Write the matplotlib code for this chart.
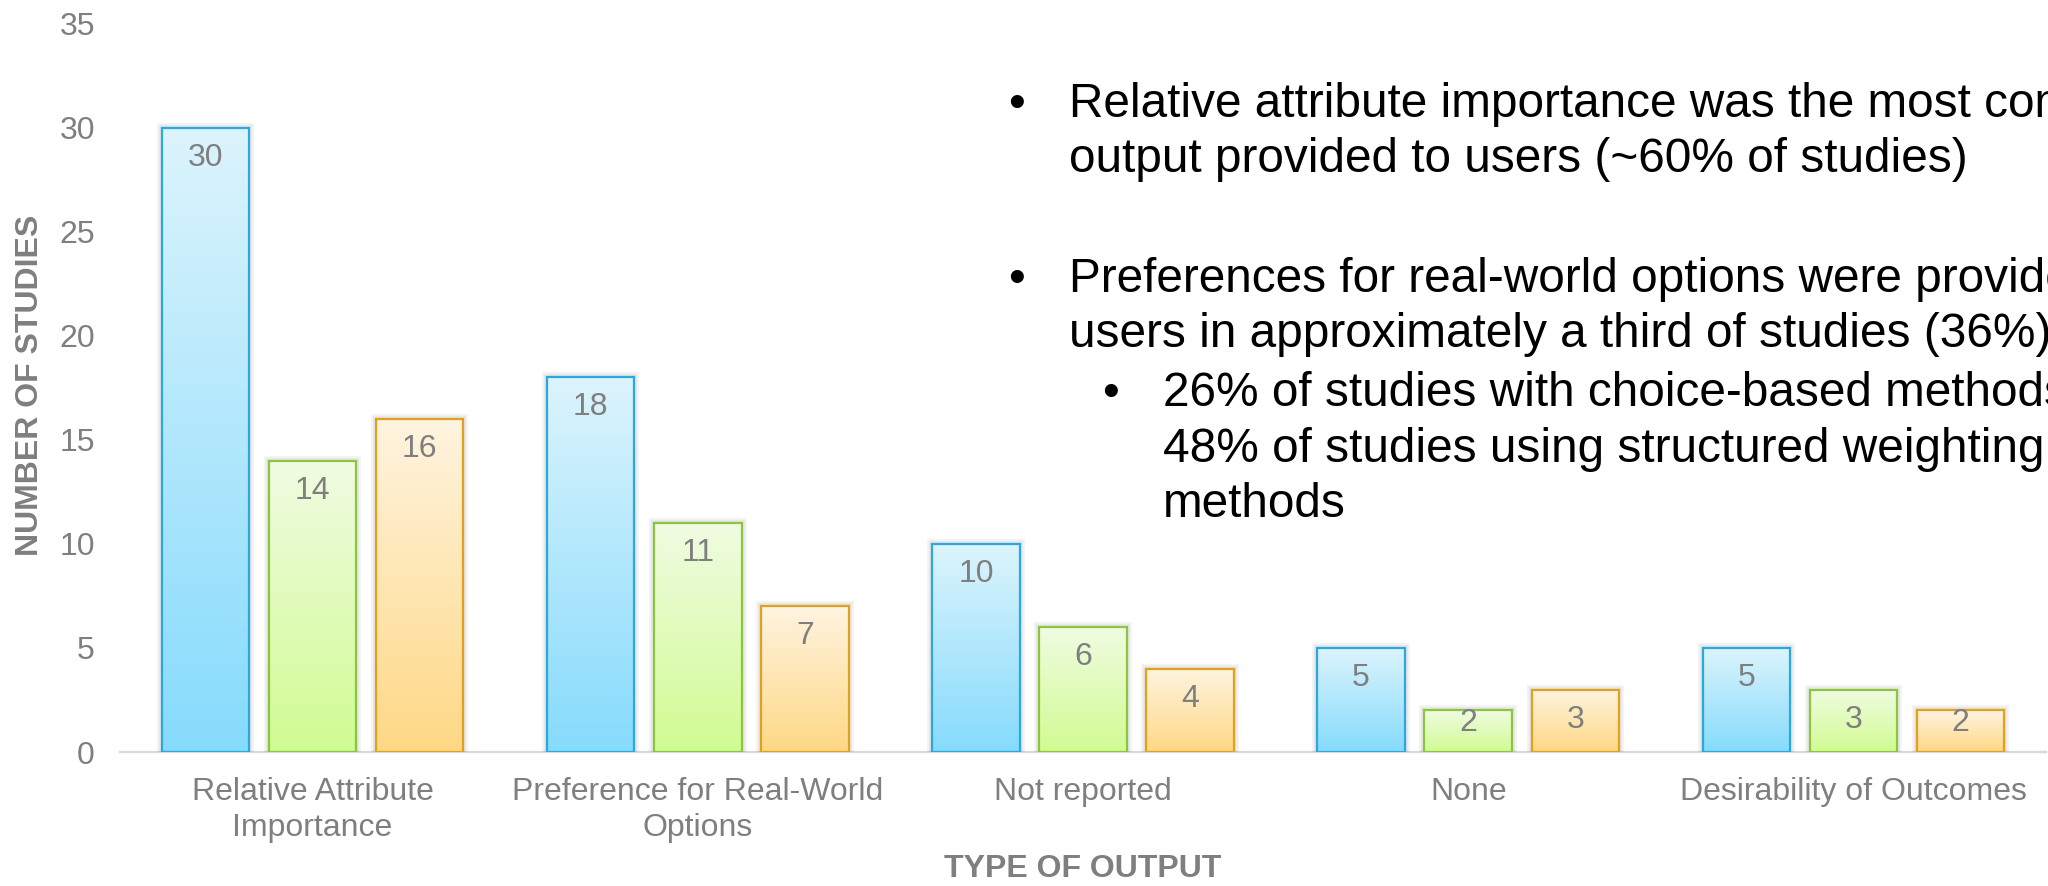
import numpy as np
import matplotlib
matplotlib.use("Agg")
import matplotlib.pyplot as plt
from matplotlib.colors import LinearSegmentedColormap

# ---- data -------------------------------------------------------------
categories = [
    "Relative Attribute\nImportance",
    "Preference for Real-World\nOptions",
    "Not reported",
    "None",
    "Desirability of Outcomes",
]
counts_blue = [30, 18, 10, 5, 5]
counts_green = [14, 11, 6, 2, 3]
counts_orange = [16, 7, 4, 3, 2]
y_ticks = [0, 5, 10, 15, 20, 25, 30, 35]

notes_main_1 = ["Relative attribute importance was the most common",
                "output provided to users (~60% of studies)"]
notes_main_2 = ["Preferences for real-world options were provided to",
                "users in approximately a third of studies (36%)"]
notes_sub = ["26% of studies with choice-based methods and",
             "48% of studies using structured weighting",
             "methods"]

# ---- style ------------------------------------------------------------
plt.rcParams["font.family"] = ["Liberation Sans", "DejaVu Sans"]
GREY = "#7f7f7f"
W, H = 2048, 886

series_style = [
    # (edge, bottom colour, top colour)
    ("#2aa8e0", "#86dbfc", "#dcf4fd"),
    ("#8cc63e", "#d1fb92", "#f0fce2"),
    ("#e2a11d", "#fed885", "#fff4e0"),
]

fig = plt.figure(figsize=(W / 100, H / 100), dpi=100)
ax = fig.add_axes([120 / W, 1 - 752 / H, (2046 - 120) / W, (752 - 23.5) / H])

x = np.arange(len(categories))
width = 0.227
pitch = 0.278
series = [counts_blue, counts_green, counts_orange]

ax.set_xlim(-0.5, len(categories) - 0.5)
ax.set_ylim(0, 35)

for i, (vals, (edge, c_bot, c_top)) in enumerate(zip(series, series_style)):
    pos = x + (i - 1) * pitch
    cmap = LinearSegmentedColormap.from_list(f"grad{i}", [c_bot, c_top])
    # soft shadow around each bar
    ax.bar(pos, vals, width, facecolor="none", edgecolor=(0, 0, 0, 0.05),
           linewidth=7, zorder=1)
    ax.bar(pos, vals, width, facecolor="none", edgecolor=(0, 0, 0, 0.05),
           linewidth=4, zorder=1)
    bars = ax.bar(pos, vals, width, facecolor="none", edgecolor=edge,
                  linewidth=1.6, zorder=3)
    grad = np.linspace(0, 1, 256).reshape(-1, 1)
    for rect in bars:
        x0, y0 = rect.get_x(), rect.get_y()
        w_, h_ = rect.get_width(), rect.get_height()
        im = ax.imshow(grad, cmap=cmap, origin="lower", aspect="auto",
                       extent=(x0, x0 + w_, y0, y0 + h_), zorder=2,
                       interpolation="bilinear")
        im.set_clip_path(rect)
        # value label just inside the top of the bar
        h_px = (ax.transData.transform((0, h_))[1]
                - ax.transData.transform((0, 0))[1])
        off_px = min(30, h_px - 29)
        ax.annotate(f"{int(h_)}", xy=(x0 + w_ / 2, h_),
                    xytext=(0, -off_px * 0.72), textcoords="offset points",
                    ha="center", va="center", fontsize=23, color=GREY,
                    zorder=4)

ax.set_xlim(-0.5, len(categories) - 0.5)
ax.set_ylim(0, 35)

ax.set_xticks(x)
ax.set_xticklabels(categories, fontsize=23, color=GREY, linespacing=1.25)
ax.set_yticks(y_ticks)
ax.set_yticklabels([str(t) for t in y_ticks], fontsize=23, color=GREY)
ax.tick_params(axis="x", length=0, pad=18)
ax.tick_params(axis="y", length=0, pad=18)

for side in ("top", "right", "left"):
    ax.spines[side].set_visible(False)
ax.spines["bottom"].set_color("#d9d9d9")
ax.spines["bottom"].set_linewidth(1.6)
ax.spines["bottom"].set_zorder(0)

fig.text(30 / W, 1 - 385 / H, "NUMBER OF STUDIES", rotation=90,
         ha="center", va="center", fontsize=23, fontweight="bold", color=GREY)
fig.text(1083 / W, 1 - 869 / H, "TYPE OF OUTPUT", ha="center", va="center",
         fontsize=23, fontweight="bold", color=GREY)

# ---- bullet notes -----------------------------------------------------
NOTE_FS = 34.4


def put(xp, yp, s, ha="left"):
    fig.text(xp / W, 1 - yp / H, s, ha=ha, va="baseline",
             fontsize=NOTE_FS, color="black")


baselines_1 = [117, 172]
baselines_2 = [292, 347]
baselines_s = [406, 462, 517]

put(1016, baselines_1[0], "\u2022", ha="center")
for yb, s in zip(baselines_1, notes_main_1):
    put(1069, yb, s)
put(1016, baselines_2[0], "\u2022", ha="center")
for yb, s in zip(baselines_2, notes_main_2):
    put(1069, yb, s)
put(1110, baselines_s[0], "\u2022", ha="center")
for yb, s in zip(baselines_s, notes_sub):
    put(1163, yb, s)

fig.savefig("out.png", dpi=100, facecolor="white")
